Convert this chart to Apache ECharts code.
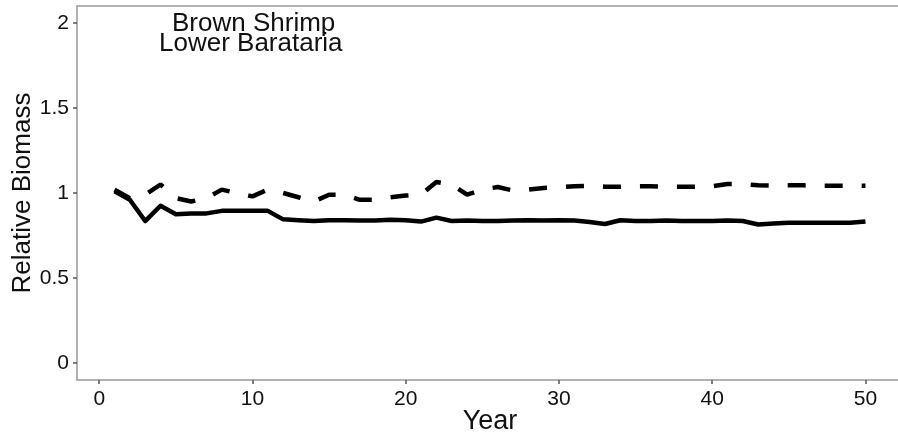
<!DOCTYPE html>
<html>
<head>
<meta charset="utf-8">
<script src="https://cdn.jsdelivr.net/npm/echarts@6/dist/echarts.min.js"></script>
<style>html,body{margin:0;padding:0;background:#fff}#c{width:898px;height:438px}</style>
</head>
<body>
<div id="c"></div>
<script>
const years = Array.from({length: 50}, (_, i) => i + 1);
const solidSeries = [1.01,0.96,0.835,0.925,0.875,0.88,0.88,0.895,0.895,0.895,
  0.895,0.845,0.84,0.835,0.84,0.84,0.838,0.838,0.842,0.84,
  0.832,0.855,0.835,0.838,0.835,0.835,0.838,0.84,0.838,0.84,
  0.838,0.83,0.818,0.84,0.835,0.835,0.838,0.835,0.835,0.835,
  0.838,0.835,0.815,0.82,0.825,0.825,0.825,0.825,0.825,0.833];
const dashedSeries = [1.02,0.97,0.99,1.05,0.97,0.95,0.97,1.02,1.0,0.98,
  1.02,1.0,0.975,0.95,0.99,0.99,0.96,0.96,0.975,0.985,
  0.99,1.065,1.05,0.99,1.02,1.035,1.015,1.02,1.03,1.033,
  1.04,1.043,1.037,1.037,1.04,1.04,1.037,1.037,1.037,1.04,
  1.053,1.053,1.045,1.043,1.045,1.045,1.043,1.043,1.043,1.043];
const xTicks = [0,10,20,30,40,50];
const yTicks = [0,0.5,1,1.5,2];
const titleLines = ['Brown Shrimp','Lower Barataria'];

const chart = echarts.init(document.getElementById('c'));
const font = 'Liberation Sans, Arial, sans-serif';
const frame = {color: '#999', width: 1.5};
chart.setOption({
  animation: false,
  grid: {left: 77, top: 6, width: 826, height: 374, show: false, containLabel: false, outerBoundsMode: 'none'},
  xAxis: [{
    type: 'value', min: -1.45, max: 52.45, interval: 10,
    axisLine: {show: true, onZero: false, lineStyle: frame},
    axisTick: {show: true, length: 4, lineStyle: {color: '#555', width: 1.5}, customValues: xTicks},
    axisLabel: {color: '#111', fontSize: 21, fontFamily: font, margin: 9, customValues: xTicks, formatter: v => String(v)},
    splitLine: {show: false},
    name: 'Year', nameLocation: 'middle', nameGap: 28, nameMoveOverlap: false,
    nameTextStyle: {color: '#111', fontSize: 27, fontFamily: font}
  }, {
    type: 'value', position: 'top', min: -1.45, max: 52.45,
    axisLine: {show: true, onZero: false, lineStyle: frame},
    axisTick: {show: false}, axisLabel: {show: false}, splitLine: {show: false}
  }],
  yAxis: {
    type: 'value', min: -0.1, max: 2.1,
    axisLine: {show: true, onZero: false, lineStyle: frame},
    axisTick: {show: true, length: 4, lineStyle: {color: '#555', width: 1.5}, customValues: yTicks},
    axisLabel: {color: '#111', fontSize: 21, fontFamily: font, margin: 8, customValues: yTicks, formatter: v => String(v)},
    splitLine: {show: false},
    name: 'Relative Biomass', nameLocation: 'middle', nameGap: 41, nameMoveOverlap: false,
    nameTextStyle: {color: '#111', fontSize: 26, fontFamily: font}
  },
  graphic: [
    {type: 'text', left: 172, top: 11, style: {text: titleLines[0], font: '26px ' + font, fill: '#111'}},
    {type: 'text', left: 159, top: 31, style: {text: titleLines[1], font: '26px ' + font, fill: '#111'}}
  ],
  series: [
    {type: 'line', data: years.map((y, i) => [y, solidSeries[i]]), showSymbol: false,
     lineStyle: {color: '#000', width: 4.5, join: 'round'}},
    {type: 'line', data: years.map((y, i) => [y, dashedSeries[i]]), showSymbol: false,
     lineStyle: {color: '#000', width: 4.5, type: [18, 19], cap: 'butt'}}
  ]
});
</script>
</body>
</html>
